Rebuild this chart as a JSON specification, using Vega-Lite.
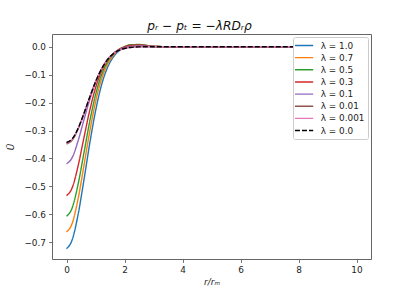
{
  "$schema": "https://vega.github.io/schema/vega-lite/v6.json",
  "width": 319,
  "height": 225,
  "autosize": "none",
  "padding": {"left": 52, "top": 34, "right": 41, "bottom": 32},
  "background": "white",
  "title": {"text": "pᵣ − pₜ = −λRDᵣρ", "font": "DejaVu Sans", "fontStyle": "italic", "fontWeight": "normal", "fontSize": 12.2, "color": "#111", "anchor": "middle", "frame": "group", "baseline": "alphabetic", "offset": -8.5, "dx": -12},
  "config": {
    "view": {"stroke": "#666", "strokeWidth": 1},
    "axis": {"grid": false, "domain": false, "tickColor": "#555", "tickSize": 3.5, "tickWidth": 0.8, "labelFont": "DejaVu Sans", "labelFontSize": 8.9, "labelColor": "#222", "titleFont": "DejaVu Sans", "titleFontSize": 8.9, "titleFontWeight": "normal", "titleColor": "#222", "labelPadding": 3},
    "legend": {"orient": "none", "legendX": 241, "legendY": 3, "labelFont": "DejaVu Sans", "labelFontSize": 8.9, "labelColor": "#222", "padding": 3, "strokeColor": "#cccccc", "fillColor": "#ffffff", "cornerRadius": 2, "rowPadding": 1.15, "symbolType": "M-1.45,0H2.6", "symbolSize": 81, "symbolStrokeWidth": 1.4, "labelOffset": 13.7}
  },
  "data": {"values": [
    {"s": "λ = 1.0", "x": 0, "y": -0.723}, {"s": "λ = 1.0", "x": 0.2, "y": -0.690}, {"s": "λ = 1.0", "x": 0.4, "y": -0.601}, {"s": "λ = 1.0", "x": 0.6, "y": -0.478}, {"s": "λ = 1.0", "x": 0.8, "y": -0.347}, {"s": "λ = 1.0", "x": 1.0, "y": -0.231}, {"s": "λ = 1.0", "x": 1.2, "y": -0.140}, {"s": "λ = 1.0", "x": 1.4, "y": -0.078}, {"s": "λ = 1.0", "x": 1.6, "y": -0.039}, {"s": "λ = 1.0", "x": 1.8, "y": -0.016}, {"s": "λ = 1.0", "x": 2.0, "y": -0.003}, {"s": "λ = 1.0", "x": 2.2, "y": 0.004}, {"s": "λ = 1.0", "x": 2.5, "y": 0.006}, {"s": "λ = 1.0", "x": 3.0, "y": 0.001}, {"s": "λ = 1.0", "x": 3.5, "y": 0.0002}, {"s": "λ = 1.0", "x": 4, "y": 0}, {"s": "λ = 1.0", "x": 6, "y": 0}, {"s": "λ = 1.0", "x": 8, "y": 0}, {"s": "λ = 1.0", "x": 10, "y": 0},
    {"s": "λ = 0.7", "x": 0, "y": -0.663}, {"s": "λ = 0.7", "x": 0.2, "y": -0.631}, {"s": "λ = 0.7", "x": 0.4, "y": -0.5445}, {"s": "λ = 0.7", "x": 0.6, "y": -0.4266}, {"s": "λ = 0.7", "x": 0.8, "y": -0.3044}, {"s": "λ = 0.7", "x": 1.0, "y": -0.1985}, {"s": "λ = 0.7", "x": 1.2, "y": -0.1188}, {"s": "λ = 0.7", "x": 1.4, "y": -0.0652}, {"s": "λ = 0.7", "x": 1.6, "y": -0.0323}, {"s": "λ = 0.7", "x": 1.8, "y": -0.0127}, {"s": "λ = 0.7", "x": 2.0, "y": -0.0008}, {"s": "λ = 0.7", "x": 2.2, "y": 0.0059}, {"s": "λ = 0.7", "x": 2.5, "y": 0.007}, {"s": "λ = 0.7", "x": 3.0, "y": 0.0013}, {"s": "λ = 0.7", "x": 3.5, "y": 0.0002}, {"s": "λ = 0.7", "x": 4, "y": 0}, {"s": "λ = 0.7", "x": 6, "y": 0}, {"s": "λ = 0.7", "x": 8, "y": 0}, {"s": "λ = 0.7", "x": 10, "y": 0},
    {"s": "λ = 0.5", "x": 0, "y": -0.607}, {"s": "λ = 0.5", "x": 0.2, "y": -0.5759}, {"s": "λ = 0.5", "x": 0.4, "y": -0.4924}, {"s": "λ = 0.5", "x": 0.6, "y": -0.3809}, {"s": "λ = 0.5", "x": 0.8, "y": -0.2681}, {"s": "λ = 0.5", "x": 1.0, "y": -0.173}, {"s": "λ = 0.5", "x": 1.2, "y": -0.103}, {"s": "λ = 0.5", "x": 1.4, "y": -0.0568}, {"s": "λ = 0.5", "x": 1.6, "y": -0.0282}, {"s": "λ = 0.5", "x": 1.8, "y": -0.0107}, {"s": "λ = 0.5", "x": 2.0, "y": 0.0004}, {"s": "λ = 0.5", "x": 2.2, "y": 0.0069}, {"s": "λ = 0.5", "x": 2.5, "y": 0.0078}, {"s": "λ = 0.5", "x": 3.0, "y": 0.0014}, {"s": "λ = 0.5", "x": 3.5, "y": 0.0002}, {"s": "λ = 0.5", "x": 4, "y": 0}, {"s": "λ = 0.5", "x": 6, "y": 0}, {"s": "λ = 0.5", "x": 8, "y": 0}, {"s": "λ = 0.5", "x": 10, "y": 0},
    {"s": "λ = 0.3", "x": 0, "y": -0.533}, {"s": "λ = 0.3", "x": 0.2, "y": -0.5039}, {"s": "λ = 0.3", "x": 0.4, "y": -0.4267}, {"s": "λ = 0.3", "x": 0.6, "y": -0.3265}, {"s": "λ = 0.3", "x": 0.8, "y": -0.2285}, {"s": "λ = 0.3", "x": 1.0, "y": -0.1481}, {"s": "λ = 0.3", "x": 1.2, "y": -0.0896}, {"s": "λ = 0.3", "x": 1.4, "y": -0.0507}, {"s": "λ = 0.3", "x": 1.6, "y": -0.0261}, {"s": "λ = 0.3", "x": 1.8, "y": -0.0105}, {"s": "λ = 0.3", "x": 2.0, "y": -0.0007}, {"s": "λ = 0.3", "x": 2.2, "y": 0.005}, {"s": "λ = 0.3", "x": 2.5, "y": 0.0061}, {"s": "λ = 0.3", "x": 3.0, "y": 0.0011}, {"s": "λ = 0.3", "x": 3.5, "y": 0.0001}, {"s": "λ = 0.3", "x": 4, "y": 0}, {"s": "λ = 0.3", "x": 6, "y": 0}, {"s": "λ = 0.3", "x": 8, "y": 0}, {"s": "λ = 0.3", "x": 10, "y": 0},
    {"s": "λ = 0.1", "x": 0, "y": -0.419}, {"s": "λ = 0.1", "x": 0.2, "y": -0.3962}, {"s": "λ = 0.1", "x": 0.4, "y": -0.3371}, {"s": "λ = 0.1", "x": 0.6, "y": -0.2624}, {"s": "λ = 0.1", "x": 0.8, "y": -0.1901}, {"s": "λ = 0.1", "x": 1.0, "y": -0.129}, {"s": "λ = 0.1", "x": 1.2, "y": -0.082}, {"s": "λ = 0.1", "x": 1.4, "y": -0.0481}, {"s": "λ = 0.1", "x": 1.6, "y": -0.0259}, {"s": "λ = 0.1", "x": 1.8, "y": -0.0119}, {"s": "λ = 0.1", "x": 2.0, "y": -0.0035}, {"s": "λ = 0.1", "x": 2.2, "y": 0.0011}, {"s": "λ = 0.1", "x": 2.5, "y": 0.0027}, {"s": "λ = 0.1", "x": 3.0, "y": 0.0006}, {"s": "λ = 0.1", "x": 3.5, "y": 0}, {"s": "λ = 0.1", "x": 4, "y": 0}, {"s": "λ = 0.1", "x": 6, "y": 0}, {"s": "λ = 0.1", "x": 8, "y": 0}, {"s": "λ = 0.1", "x": 10, "y": 0},
    {"s": "λ = 0.01", "x": 0, "y": -0.348}, {"s": "λ = 0.01", "x": 0.2, "y": -0.3339}, {"s": "λ = 0.01", "x": 0.4, "y": -0.2949}, {"s": "λ = 0.01", "x": 0.6, "y": -0.2405}, {"s": "λ = 0.01", "x": 0.8, "y": -0.1813}, {"s": "λ = 0.01", "x": 1.0, "y": -0.1262}, {"s": "λ = 0.01", "x": 1.2, "y": -0.0813}, {"s": "λ = 0.01", "x": 1.4, "y": -0.0483}, {"s": "λ = 0.01", "x": 1.6, "y": -0.0264}, {"s": "λ = 0.01", "x": 1.8, "y": -0.013}, {"s": "λ = 0.01", "x": 2.0, "y": -0.0056}, {"s": "λ = 0.01", "x": 2.2, "y": -0.0017}, {"s": "λ = 0.01", "x": 2.5, "y": 0.0002}, {"s": "λ = 0.01", "x": 3.0, "y": 0.0001}, {"s": "λ = 0.01", "x": 3.5, "y": 0}, {"s": "λ = 0.01", "x": 4, "y": 0}, {"s": "λ = 0.01", "x": 6, "y": 0}, {"s": "λ = 0.01", "x": 8, "y": 0}, {"s": "λ = 0.01", "x": 10, "y": 0},
    {"s": "λ = 0.001", "x": 0, "y": -0.345}, {"s": "λ = 0.001", "x": 0.2, "y": -0.3313}, {"s": "λ = 0.001", "x": 0.4, "y": -0.2932}, {"s": "λ = 0.001", "x": 0.6, "y": -0.2396}, {"s": "λ = 0.001", "x": 0.8, "y": -0.181}, {"s": "λ = 0.001", "x": 1.0, "y": -0.1262}, {"s": "λ = 0.001", "x": 1.2, "y": -0.0813}, {"s": "λ = 0.001", "x": 1.4, "y": -0.0483}, {"s": "λ = 0.001", "x": 1.6, "y": -0.0265}, {"s": "λ = 0.001", "x": 1.8, "y": -0.0134}, {"s": "λ = 0.001", "x": 2.0, "y": -0.0063}, {"s": "λ = 0.001", "x": 2.2, "y": -0.0027}, {"s": "λ = 0.001", "x": 2.5, "y": -0.0007}, {"s": "λ = 0.001", "x": 3.0, "y": 0}, {"s": "λ = 0.001", "x": 3.5, "y": 0}, {"s": "λ = 0.001", "x": 4, "y": 0}, {"s": "λ = 0.001", "x": 6, "y": 0}, {"s": "λ = 0.001", "x": 8, "y": 0}, {"s": "λ = 0.001", "x": 10, "y": 0},
    {"s": "λ = 0.0", "x": 0, "y": -0.343}, {"s": "λ = 0.0", "x": 0.2, "y": -0.3296}, {"s": "λ = 0.0", "x": 0.4, "y": -0.2923}, {"s": "λ = 0.0", "x": 0.6, "y": -0.2393}, {"s": "λ = 0.0", "x": 0.8, "y": -0.1809}, {"s": "λ = 0.0", "x": 1.0, "y": -0.1262}, {"s": "λ = 0.0", "x": 1.2, "y": -0.0813}, {"s": "λ = 0.0", "x": 1.4, "y": -0.0483}, {"s": "λ = 0.0", "x": 1.6, "y": -0.0265}, {"s": "λ = 0.0", "x": 1.8, "y": -0.0134}, {"s": "λ = 0.0", "x": 2.0, "y": -0.0063}, {"s": "λ = 0.0", "x": 2.2, "y": -0.0027}, {"s": "λ = 0.0", "x": 2.5, "y": -0.0007}, {"s": "λ = 0.0", "x": 3.0, "y": 0}, {"s": "λ = 0.0", "x": 3.5, "y": 0}, {"s": "λ = 0.0", "x": 4, "y": 0}, {"s": "λ = 0.0", "x": 6, "y": 0}, {"s": "λ = 0.0", "x": 8, "y": 0}, {"s": "λ = 0.0", "x": 10, "y": 0}
  ]},
  "mark": {"type": "line", "interpolate": "monotone", "strokeWidth": 1.4},
  "encoding": {
    "x": {"field": "x", "type": "quantitative", "scale": {"domain": [-0.5, 10.5], "nice": false, "zero": false}, "axis": {"values": [0, 2, 4, 6, 8, 10], "title": "r/rₘ", "titleFontStyle": "italic", "titlePadding": 3}},
    "y": {"field": "y", "type": "quantitative", "scale": {"domain": [-0.76, 0.0455], "nice": false, "zero": false}, "axis": {"values": [0, -0.1, -0.2, -0.3, -0.4, -0.5, -0.6, -0.7], "format": ".1f", "title": "Ū", "titleFontStyle": "italic", "titlePadding": 8}},
    "color": {"field": "s", "type": "nominal", "scale": {"domain": ["λ = 1.0", "λ = 0.7", "λ = 0.5", "λ = 0.3", "λ = 0.1", "λ = 0.01", "λ = 0.001", "λ = 0.0"], "range": ["#1f77b4", "#ff7f0e", "#2ca02c", "#d62728", "#9467bd", "#8c564b", "#e377c2", "#000000"]}, "legend": {"title": null}},
    "strokeDash": {"field": "s", "type": "nominal", "scale": {"domain": ["λ = 1.0", "λ = 0.7", "λ = 0.5", "λ = 0.3", "λ = 0.1", "λ = 0.01", "λ = 0.001", "λ = 0.0"], "range": [[1, 0], [1, 0], [1, 0], [1, 0], [1, 0], [1, 0], [1, 0], [5, 2]]}, "legend": {"title": null}}
  }
}
